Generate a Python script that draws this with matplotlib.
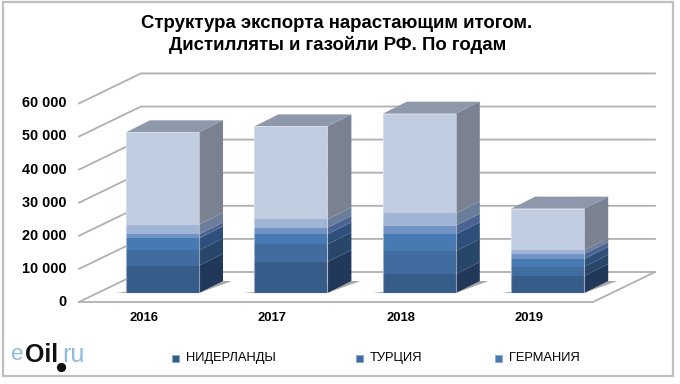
import matplotlib
matplotlib.use("Agg")
import matplotlib.pyplot as plt
from matplotlib.patches import Polygon, Rectangle

plt.rcParams['font.family'] = ['Liberation Sans', 'DejaVu Sans']

years = ['2016', '2017', '2018', '2019']
netherlands = [8260, 9360, 5740, 5140]
turkey = [4630, 5340, 6950, 2820]
germany = [3625, 3020, 5030, 2320]
series4 = [1210, 2010, 2620, 1510]
series5 = [2920, 2520, 3730, 1110]
series6 = [27900, 28090, 30100, 12590]
stack = [netherlands, turkey, germany, series4, series5, series6]
legend_names = ['НИДЕРЛАНДЫ', 'ТУРЦИЯ', 'ГЕРМАНИЯ']
y_ticks = [0, 10000, 20000, 30000, 40000, 50000, 60000]
y_labels = ['0', '10 000', '20 000', '30 000', '40 000', '50 000', '60 000']

front = ['#365c8a', '#406c9f', '#4779b3', '#7092c4', '#a0b4d6', '#c1cde1']
side = ['#22385a', '#27466a', '#2d4f7a', '#4c6493', '#6a7d9a', '#7a8292']
top = '#8e98ab'
grid = '#b0b0b0'

W, H = 680, 384
fig = plt.figure(figsize=(W / 100, H / 100), dpi=100, facecolor='white')
px_per_val = 33.1 / 10000
px_per_cat = 128.4
x0, y0 = 162.5, 293
ax = fig.add_axes([0, 0, 1, 1])
ax.set_xlim(-x0 / px_per_cat, (W - x0) / px_per_cat)
ax.set_ylim(-(H - y0) / px_per_val, y0 / px_per_val)
ax.axis('off')

def dx(p): return p / px_per_cat
def dy(p): return p / px_per_val
def xpx(p): return (p - x0) / px_per_cat
def ypx(p): return (y0 - p) / px_per_val

fl, bl, br, fr = 79.0, 141.0, 655.0, 593.0
off_front, off_back = -9, 21
for v in y_ticks:
    yf = v + dy(off_front)
    yb = v + dy(off_back)
    ax.plot([xpx(fl), xpx(bl), xpx(br)], [yf, yb, yb], color=grid, lw=1.3, zorder=1,
            solid_joinstyle='miter')
ax.plot([xpx(fl), xpx(fr), xpx(br)], [dy(off_front), dy(off_front), dy(off_back)],
        color=grid, lw=1.3, zorder=1)
for v, lab in zip(y_ticks, y_labels):
    ax.text(xpx(67), v + dy(off_front), lab, ha='right', va='center',
            fontsize=10.4, fontweight='bold', color='black')

bw = 73 / px_per_cat
depth_x = dx(24)
depth_y = dy(12)
for i, year in enumerate(years):
    ax.add_patch(Polygon([(i - bw / 2 - dx(10), 0), (i + bw / 2, 0),
                          (i + bw / 2 + depth_x + dx(9), depth_y), (i + bw / 2 + dx(14), depth_y)],
                         closed=True, fc='#6f6f6f', ec='none', alpha=0.6, zorder=2))
    base = 0
    for j, s in enumerate(stack):
        v = s[i]
        ax.bar(i, v, bw, bottom=base, color=front[j], zorder=4)
        xr = i + bw / 2
        ax.add_patch(Polygon([(xr, base), (xr + depth_x, base + depth_y),
                              (xr + depth_x, base + v + depth_y), (xr, base + v)],
                             closed=True, fc=side[j], ec='none', zorder=3))
        base += v
    xl = i - bw / 2
    xr = i + bw / 2
    ax.add_patch(Polygon([(xl, base), (xr, base), (xr + depth_x, base + depth_y),
                          (xl + depth_x, base + depth_y)],
                         closed=True, fc=top, ec='none', zorder=3))
    ax.add_patch(Rectangle((xl, 0), bw, base, fc='none', ec='#e4e9f2', lw=0.8, alpha=0.55, zorder=5))
    ax.text(i - dx(18.5), ypx(318), year, ha='center', va='center',
            fontsize=9.4, fontweight='bold', color='black')

ax.text(xpx(337), ypx(24), 'Структура экспорта нарастающим итогом.',
        ha='center', va='center', fontsize=13.4, fontweight='bold')
ax.text(xpx(338), ypx(45), 'Дистилляты и газойли РФ. По годам',
        ha='center', va='center', fontsize=13.4, fontweight='bold')

leg_x = [172, 356, 495]
for lx, name, col in zip(leg_x, legend_names, front):
    ax.add_patch(Rectangle((xpx(lx), ypx(362)), dx(7), dy(7), fc=col, ec='#8aa2c4', lw=0.5, zorder=5))
    ax.text(xpx(lx + 14), ypx(358), name, ha='left', va='center', fontsize=9.3, color='black')

ax.text(xpx(11), ypx(355), 'e', fontsize=16, color='#8fbbdc', ha='left', va='center')
ax.text(xpx(25), ypx(355), 'Oil', fontsize=18, color='#111111', ha='left', va='center', fontweight='bold')
ax.text(xpx(62), ypx(355), 'ru', fontsize=18, color='#8fbbdc', ha='left', va='center')
ax.scatter([xpx(61)], [ypx(367)], s=32, color='#111111', zorder=6)

ax.add_patch(Rectangle((xpx(3), ypx(376)), dx(670), dy(374), fc='none', ec='#bfbfbf', lw=1.6, zorder=6))
fig.savefig('out.png', dpi=100, facecolor='white')
